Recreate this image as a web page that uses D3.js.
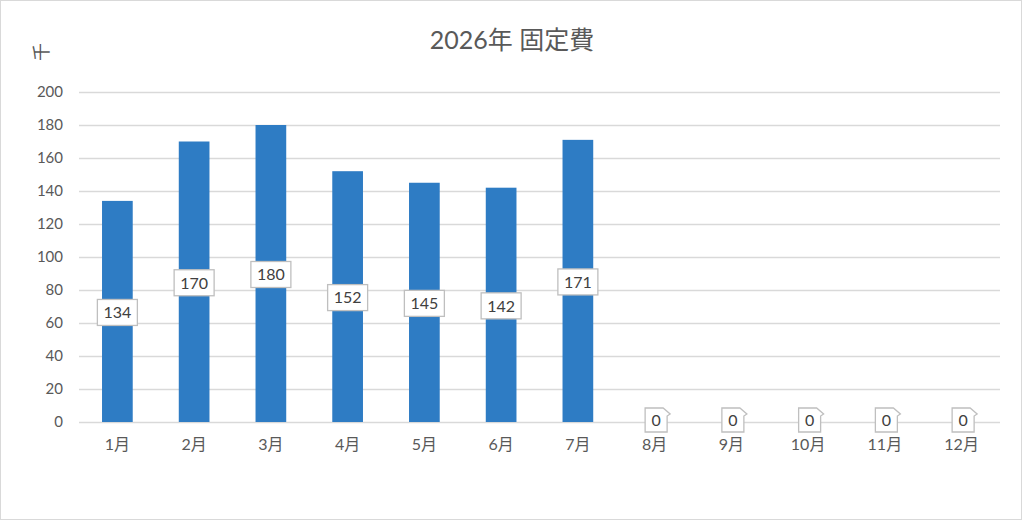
<!DOCTYPE html>
<html>
<head>
<meta charset="utf-8">
<style>
  body { margin: 0; background: #fff; font-family: Lato, "Noto Sans CJK JP", sans-serif; }
</style>
</head>
<body>
<script src="https://cdn.jsdelivr.net/npm/d3@7"></script>
<script>
// data
var months = ["1月","2月","3月","4月","5月","6月","7月","8月","9月","10月","11月","12月"];
var costs  = [134, 170, 180, 152, 145, 142, 171, 0, 0, 0, 0, 0];
var yTicks = [0, 20, 40, 60, 80, 100, 120, 140, 160, 180, 200];
var title  = "2026年 固定費";
var unit   = "千";

var W = 1024, H = 522;
var margin = {top: 92, right: 24, bottom: 100, left: 79};
var font = "Lato, 'Noto Sans CJK JP', sans-serif";

var svg = d3.select("body").append("svg")
    .attr("width", W)
    .attr("height", H);

// outer frame
svg.append("rect")
    .attr("x", 0.5).attr("y", 0.5)
    .attr("width", W - 3).attr("height", H - 3)
    .attr("fill", "#fff").attr("stroke", "#d9d9d9");

var x = d3.scaleBand()
    .domain(months)
    .range([margin.left, W - margin.right])
    .paddingInner(0.6).paddingOuter(0.3);

var y = d3.scaleLinear()
    .domain([0, 200])
    .range([422, margin.top]);

// gridlines
svg.append("g")
    .selectAll("line")
    .data(yTicks)
  .enter().append("line")
    .attr("x1", margin.left).attr("x2", W - margin.right)
    .attr("y1", d => y(d) + 0.5).attr("y2", d => y(d) + 0.5)
    .attr("stroke", "#d9d9d9").attr("stroke-width", 1.3);

// y axis labels
var yAxis = svg.append("g")
    .attr("transform", `translate(${margin.left - 16},0)`)
    .call(d3.axisLeft(y).tickValues(yTicks).tickSize(0).tickPadding(0));
yAxis.select(".domain").remove();
yAxis.selectAll("text")
    .style("font-size", "15px")
    .style("font-family", font)
    .attr("fill", "#595959");

// x axis labels
var xAxis = svg.append("g")
    .attr("transform", `translate(0,${y(0) + 17})`)
    .call(d3.axisBottom(x).tickSize(0).tickPadding(0));
xAxis.select(".domain").remove();
xAxis.selectAll("text")
    .style("font-size", "16px")
    .style("font-family", font)
    .attr("fill", "#595959");

// bars
svg.selectAll(".bar")
    .data(costs)
  .enter().append("rect")
    .attr("class", "bar")
    .attr("x", (d, i) => x(months[i]))
    .attr("width", x.bandwidth())
    .attr("y", d => y(d))
    .attr("height", d => y(0) - y(d))
    .attr("fill", "#2e7cc4");

// data labels
var lab = svg.selectAll(".lab")
    .data(costs)
  .enter().append("g")
    .attr("class", "lab")
    .attr("transform", (d, i) => `translate(${x(months[i]) + x.bandwidth() / 2 + (d === 0 ? 1.5 : 0)},${y(d / 2) + (d === 0 ? -2 : 1)})`);

lab.filter(d => d > 0).append("rect")
    .attr("x", -20).attr("y", -13)
    .attr("width", 40).attr("height", 26)
    .attr("fill", "#fff").attr("stroke", "#bfbfbf").attr("stroke-width", 1.3);

// zero values get a small callout box
lab.filter(d => d === 0).append("path")
    .attr("d", "M -11,-12 L 7,-12 L 14,-6 L 11,-4 L 11,12 L -11,12 Z")
    .attr("fill", "#fff").attr("stroke", "#bfbfbf").attr("stroke-width", 1.3);

lab.append("text")
    .text(d => d)
    .attr("text-anchor", "middle")
    .attr("dy", "0.36em")
    .style("font-size", "16px")
    .style("font-family", font)
    .attr("fill", "#404040");

// title
svg.append("text")
    .text(title)
    .attr("x", 512).attr("y", 49)
    .attr("text-anchor", "middle")
    .style("font-size", "25px")
    .style("font-family", font)
    .attr("fill", "#595959");

// unit label, rotated like the Excel axis title
svg.append("text")
    .text(unit)
    .attr("transform", "translate(42,52) rotate(-90)")
    .attr("text-anchor", "middle")
    .attr("dy", "0.35em")
    .style("font-size", "18px")
    .style("font-family", "'Noto Sans CJK JP', sans-serif")
    .attr("fill", "#595959");
</script>
</body>
</html>
